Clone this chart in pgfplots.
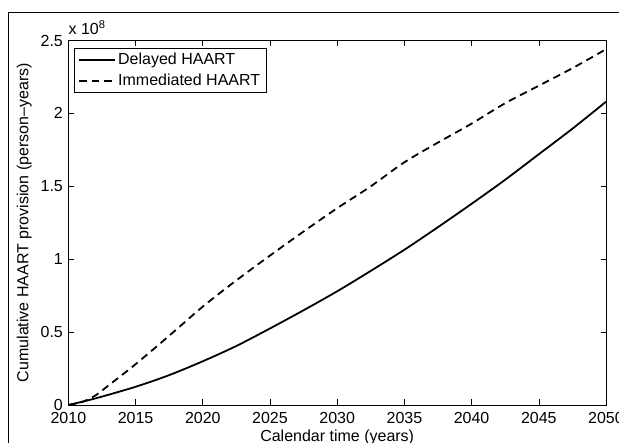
\documentclass[border=0pt]{standalone}
\usepackage{fontspec}
\setmainfont{Liberation Sans}
\usepackage{pgfplots}
\pgfplotsset{compat=1.18}
\begin{document}
\fontsize{16bp}{19bp}\selectfont
\begin{tikzpicture}
\useasboundingbox (-68.4bp,-38bp) rectangle (550.6bp,405bp);
\draw[line width=0.9bp] (-60bp,-60bp) -- (-60bp,393bp) -- (620bp,393bp);
\begin{axis}[
  scale only axis,
  width=537.6bp, height=364.5bp,
  at={(0,0)}, anchor=south west,
  xmin=2010, xmax=2050, ymin=0, ymax=2.5,
  xtick={2010,2015,...,2050},
  ytick={0,0.5,1,1.5,2,2.5},
  yticklabels={0,0.5,1,1.5,2,2.5},
  xticklabel style={/pgf/number format/1000 sep={}},
  /pgf/number format/assume math mode=true,
  tick align=inside,
  major tick length=5.5bp,
  tick style={black, line width=0.6bp},
  axis line style={line width=0.9bp},
  ticklabel style={font=\fontsize{16bp}{19bp}\selectfont},
  xticklabel style={yshift=-1.5bp},
  xlabel={Calendar time (years)},
  ylabel={Cumulative HAART provision (person–years)},
  label style={font=\fontsize{16bp}{19bp}\selectfont},
  xlabel style={at={(axis description cs:0.5,-0.1015)}, anchor=base},
  ylabel style={at={(axis description cs:-0.0745,0.5)}, anchor=base},
  legend cell align=left,
  legend style={at={(axis description cs:0,1)}, anchor=north west,
    xshift=5.6bp, yshift=-7.5bp, draw=black, line width=0.8bp,
    font=\fontsize{16bp}{19bp}\selectfont, row sep=2.5bp,
    inner xsep=4bp, inner ysep=3bp},
  legend image code/.code={\draw[#1] (0bp,0bp) -- (36bp,0bp);},
  clip=false,
]
\addplot[black, line width=1.8bp, smooth] coordinates {
(2010,0) (2012,0.045) (2015,0.125) (2017.5,0.205) (2020,0.30) (2022.5,0.405)
(2025,0.525) (2027.5,0.65) (2030,0.78) (2032.5,0.92) (2035,1.065)
(2037.5,1.22) (2040,1.38) (2042.5,1.545) (2045,1.72) (2047.5,1.895) (2050,2.08)
};
\addlegendentry{Delayed HAART}
\addplot[black, line width=1.8bp, dash pattern=on 7.5bp off 5bp, smooth] coordinates {
(2010,0) (2011,0.02) (2012,0.065) (2013,0.135) (2015,0.28) (2017.5,0.475)
(2020,0.675) (2022.5,0.855) (2025,1.025) (2027.5,1.19) (2030,1.35)
(2032.5,1.50) (2035,1.665) (2037.5,1.80) (2040,1.93) (2042.5,2.07)
(2045,2.19) (2047.5,2.31) (2050,2.44)
};
\addlegendentry{Immediated HAART}
\node[anchor=base west, inner sep=0pt, font=\fontsize{16bp}{19bp}\selectfont] at (axis description cs:0,1) [yshift=5.5bp] {x 10\textsuperscript{8}};
\end{axis}
\end{tikzpicture}
\end{document}
